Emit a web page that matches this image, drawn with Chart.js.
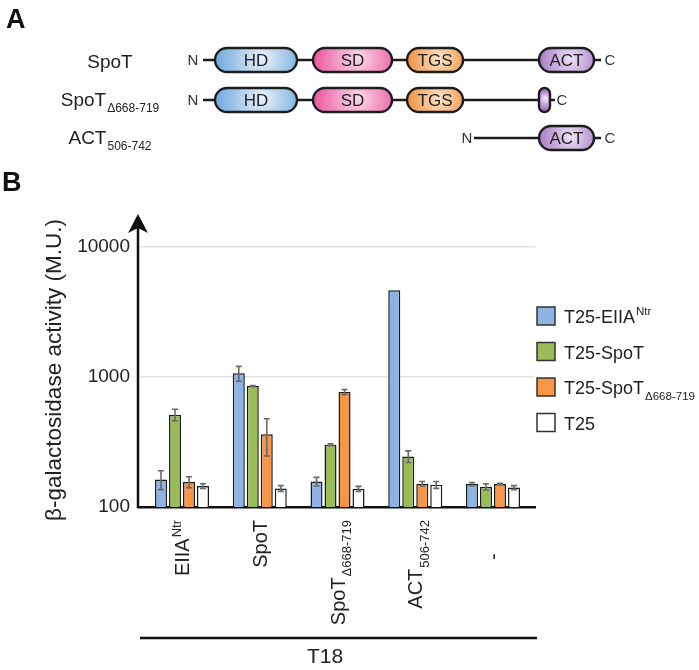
<!DOCTYPE html>
<html>
<head>
<meta charset="utf-8">
<script src="https://cdn.jsdelivr.net/npm/chart.js@4.4.0/dist/chart.umd.min.js"></script>
<style>
  html, body { margin: 0; padding: 0; background: #fff; }
</style>
</head>
<body>
<canvas id="chart" width="699" height="670"></canvas>
<script>
// T18 fusions (x categories): main text + sub/superscript
const catMain = ['EIIA', 'SpoT', 'SpoT', 'ACT', '-      '];
const catScript = ['Ntr', '', 'Δ668-719', '506-742', ''];
const catScriptPos = ['sup', '', 'sub', 'sub', ''];

// T25 fusions (series)
const seriesMain = ['T25-EIIA', 'T25-SpoT', 'T25-SpoT', 'T25'];
const seriesScript = ['Ntr', '', 'Δ668-719', ''];
const seriesScriptPos = ['sup', '', 'sub', ''];
const seriesColors = ['#8db4e2', '#9bbb59', '#f79646', '#ffffff'];

// beta-galactosidase activity (M.U.) and error
const eiiaValues = [163, 1067, 157, 4650, 150];
const eiiaErrors = [27, 140, 12, 0, 4];
const spotValues = [513, 853, 301, 245, 143];
const spotErrors = [52, 8, 5, 25, 8];
const spotDeltaValues = [156, 362, 767, 151, 150];
const spotDeltaErrors = [15, 115, 35, 6, 2];
const t25Values = [145, 139, 138, 148, 141];
const t25Errors = [6, 7, 6, 9, 5];

const yTicks = [100, 1000, 10000];

const FONT = '"Liberation Sans", Arial, sans-serif';
const allValues = [eiiaValues, spotValues, spotDeltaValues, t25Values];
const allErrors = [eiiaErrors, spotErrors, spotDeltaErrors, t25Errors];

// text with a sub- or superscript part
function richText(ctx, x, y, main, script, pos, size, small, align) {
    ctx.font = size + 'px ' + FONT;
    const w1 = ctx.measureText(main).width;
    ctx.font = small + 'px ' + FONT;
    const w2 = script ? ctx.measureText(script).width + 1 : 0;
    let start = x;
    if (align === 'right') start = x - w1 - w2;
    else if (align === 'center') start = x - (w1 + w2) / 2;
    ctx.textAlign = 'left';
    ctx.textBaseline = 'alphabetic';
    ctx.font = size + 'px ' + FONT;
    ctx.fillText(main, start, y);
    if (script) {
        ctx.font = small + 'px ' + FONT;
        const dy = pos === 'sup' ? -size * 0.42 : size * 0.32;
        ctx.fillText(script, start + w1 + 1, y + dy);
    }
}

function pillPath(ctx, x, y, w, h) {
    const r = Math.min(h / 2, w / 2);
    ctx.beginPath();
    ctx.moveTo(x + r, y);
    ctx.arcTo(x + w, y, x + w, y + h, r);
    ctx.arcTo(x + w, y + h, x, y + h, r);
    ctx.arcTo(x, y + h, x, y, r);
    ctx.arcTo(x, y, x + w, y, r);
    ctx.closePath();
}

function drawDomain(ctx, x1, x2, yc, base, light, label) {
    const h = 24, w = x2 - x1;
    pillPath(ctx, x1, yc - h / 2, w, h);
    const g = ctx.createRadialGradient(x1 + w * 0.58, yc - 2, 1, x1 + w * 0.55, yc, Math.max(w * 0.55, 9));
    g.addColorStop(0, light);
    g.addColorStop(1, base);
    ctx.fillStyle = g;
    ctx.fill();
    ctx.lineWidth = 2.4;
    ctx.strokeStyle = '#1c1c1c';
    ctx.stroke();
    if (label) {
        ctx.fillStyle = '#222';
        ctx.font = '17px ' + FONT;
        ctx.textAlign = 'center';
        ctx.textBaseline = 'middle';
        ctx.fillText(label, x1 + w / 2, yc + 1);
    }
}

function hLine(ctx, x1, x2, y, lw) {
    ctx.beginPath();
    ctx.moveTo(x1, y);
    ctx.lineTo(x2, y);
    ctx.lineWidth = lw;
    ctx.strokeStyle = '#1c1c1c';
    ctx.stroke();
}

const HD = ['#6fa8dc', '#e6f0fa'], SD = ['#e8569d', '#fbd6e8'];
const TGS = ['#f2903f', '#fde3c8'], ACT = ['#a67cc4', '#ece0f4'];

// panel A: domain map
function drawPanelA(ctx) {
    ctx.save();
    ctx.fillStyle = '#111';
    ctx.font = 'bold 27px ' + FONT;
    ctx.textAlign = 'left';
    ctx.textBaseline = 'alphabetic';
    ctx.fillText('A', 6, 28);

    ctx.fillStyle = '#222';
    richText(ctx, 110, 68, 'SpoT', '', '', 19, 12, 'center');
    richText(ctx, 110, 106, 'SpoT', 'Δ668-719', 'sub', 19, 12, 'center');
    richText(ctx, 110, 144, 'ACT', '506-742', 'sub', 19, 12, 'center');

    // row 1
    hLine(ctx, 203, 601, 60, 2.4);
    drawDomain(ctx, 215, 297, 60, HD[0], HD[1], 'HD');
    drawDomain(ctx, 313, 392, 60, SD[0], SD[1], 'SD');
    drawDomain(ctx, 407, 463, 60, TGS[0], TGS[1], 'TGS');
    drawDomain(ctx, 539, 594, 60, ACT[0], ACT[1], 'ACT');
    // row 2
    hLine(ctx, 203, 555, 100, 2.4);
    drawDomain(ctx, 215, 297, 100, HD[0], HD[1], 'HD');
    drawDomain(ctx, 313, 392, 100, SD[0], SD[1], 'SD');
    drawDomain(ctx, 407, 463, 100, TGS[0], TGS[1], 'TGS');
    drawDomain(ctx, 539, 550, 100, ACT[0], ACT[1], '');
    // row 3
    hLine(ctx, 474, 601, 138, 2.4);
    drawDomain(ctx, 539, 594, 138, ACT[0], ACT[1], 'ACT');

    ctx.fillStyle = '#333';
    ctx.font = '15px ' + FONT;
    ctx.textAlign = 'center';
    ctx.textBaseline = 'middle';
    ctx.fillText('N', 193, 61);
    ctx.fillText('N', 193, 101);
    ctx.fillText('N', 467, 139);
    ctx.fillText('C', 610, 61);
    ctx.fillText('C', 562, 101);
    ctx.fillText('C', 610, 139);
    ctx.restore();
}

const decor = {
    id: 'decor',
    afterDatasetsDraw(chart) {
        const ctx = chart.ctx;
        const y = chart.scales.y;
        ctx.save();
        // error bars
        chart.data.datasets.forEach((ds, di) => {
            const meta = chart.getDatasetMeta(di);
            meta.data.forEach((bar, i) => {
                const v = ds.data[i].y, e = ds.errors[i];
                if (!e) return;
                const yt = y.getPixelForValue(v + e);
                const yb = y.getPixelForValue(v - e);
                ctx.strokeStyle = '#6a6a6a';
                ctx.lineWidth = 1.6;
                ctx.beginPath();
                ctx.moveTo(bar.x, yt); ctx.lineTo(bar.x, yb);
                ctx.moveTo(bar.x - 3, yt); ctx.lineTo(bar.x + 3, yt);
                ctx.moveTo(bar.x - 3, yb); ctx.lineTo(bar.x + 3, yb);
                ctx.stroke();
            });
        });
        ctx.restore();
    },
    afterDraw(chart) {
        const ctx = chart.ctx;
        const area = chart.chartArea;
        const x = chart.scales.x;
        drawPanelA(ctx);

        ctx.save();
        // B label
        ctx.fillStyle = '#111';
        ctx.font = 'bold 27px ' + FONT;
        ctx.textAlign = 'left';
        ctx.textBaseline = 'alphabetic';
        ctx.fillText('B', 2, 191);

        // y axis with arrow
        const ax = area.left;
        ctx.strokeStyle = '#111';
        ctx.lineWidth = 2.5;
        ctx.beginPath();
        ctx.moveTo(ax, area.bottom + 1);
        ctx.lineTo(ax, 226);
        ctx.stroke();
        ctx.fillStyle = '#111';
        ctx.beginPath();
        ctx.moveTo(ax, 214);
        ctx.lineTo(ax + 10, 233);
        ctx.lineTo(ax, 228);
        ctx.lineTo(ax - 10, 233);
        ctx.closePath();
        ctx.fill();

        // y title
        ctx.save();
        ctx.translate(55, 370);
        ctx.rotate(-Math.PI / 2);
        ctx.fillStyle = '#222';
        ctx.font = '22.5px ' + FONT;
        ctx.textAlign = 'center';
        ctx.textBaseline = 'middle';
        ctx.fillText('β-galactosidase activity (M.U.)', 0, 0);
        ctx.restore();

        // x category labels, rotated
        ctx.fillStyle = '#222';
        catMain.forEach((m, i) => {
            const px = x.getPixelForValue(i + 1);
            ctx.save();
            ctx.translate(px + 7, area.bottom + 13);
            ctx.rotate(-Math.PI / 2);
            richText(ctx, 0, 0, m, catScript[i], catScriptPos[i], 20, 13, 'right');
            ctx.restore();
        });

        // T18 bracket line
        ctx.strokeStyle = '#111';
        ctx.lineWidth = 2.5;
        ctx.beginPath();
        ctx.moveTo(140, 638);
        ctx.lineTo(537, 638);
        ctx.stroke();
        ctx.fillStyle = '#222';
        ctx.font = '21px ' + FONT;
        ctx.textAlign = 'center';
        ctx.textBaseline = 'alphabetic';
        ctx.fillText('T18', 325, 663);

        // legend
        chart.data.datasets.forEach((ds, i) => {
            const cy = 316 + i * 35.5;
            ctx.fillStyle = ds.backgroundColor;
            ctx.fillRect(537, cy - 9, 18, 18);
            ctx.strokeStyle = '#333';
            ctx.lineWidth = 1.5;
            ctx.strokeRect(537, cy - 9, 18, 18);
            ctx.fillStyle = '#222';
            richText(ctx, 564, cy + 7, seriesMain[i], seriesScript[i], seriesScriptPos[i], 18, 11.5, 'left');
        });
        ctx.restore();
    }
};

const ctx = document.getElementById('chart').getContext('2d');
const chart = new Chart(ctx, {
    type: 'bar',
    data: {
        datasets: allValues.map((vals, s) => ({
            label: seriesMain[s] + seriesScript[s],
            data: vals.map((v, i) => ({ x: i + 1, y: v })),
            errors: allErrors[s],
            backgroundColor: seriesColors[s],
            borderColor: '#1c1c1c',
            borderWidth: 1.5,
            categoryPercentage: 0.72,
            barPercentage: 0.86
        }))
    },
    plugins: [decor],
    options: {
        responsive: false,
        animation: false,
        devicePixelRatio: 1,
        layout: { padding: { top: 247, right: 164, left: 0, bottom: 0 } },
        plugins: { legend: { display: false }, tooltip: { enabled: false } },
        scales: {
            x: {
                type: 'linear',
                offset: false,
                min: 0.434,
                max: 5.54,
                afterBuildTicks: s => { s.ticks = catMain.map((c, i) => ({ value: i + 1 })); },
                afterFit: s => { s.height = 163; },
                ticks: { display: false },
                grid: { display: false },
                border: { color: '#111', width: 2.5 }
            },
            y: {
                type: 'logarithmic',
                min: 100,
                max: 10000,
                afterBuildTicks: s => { s.ticks = yTicks.map(v => ({ value: v })); },
                afterFit: s => { s.width = 138; },
                ticks: {
                    color: '#222',
                    padding: 8,
                    font: { size: 19, family: FONT },
                    callback: v => String(v)
                },
                grid: { color: '#e2e2e2', lineWidth: 1.5, drawTicks: false },
                border: { display: false }
            }
        }
    }
});
</script>
</body>
</html>
